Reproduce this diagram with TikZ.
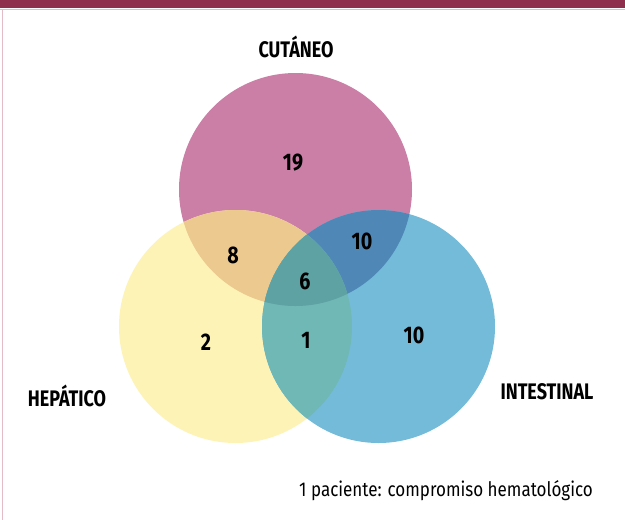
\documentclass[tikz,border=0pt]{standalone}
\usepackage{fontspec}
\setmainfont{Fira Sans}
\newfontfamily\condbold[FakeStretch=0.80]{Fira Sans Bold}
\newfontfamily\condnum[FakeStretch=0.82]{Fira Sans Bold}
\newfontfamily\condreg[FakeStretch=0.85]{Fira Sans}
\definecolor{bar}{HTML}{8E2F4E}
\definecolor{frame}{HTML}{E2BCC7}
\definecolor{cpink}{HTML}{CB7FA7}
\definecolor{cyellow}{HTML}{FEF3B6}
\definecolor{cblue}{HTML}{74BBDA}
\definecolor{cpy}{HTML}{ECC98E}
\definecolor{cpb}{HTML}{4F88B7}
\definecolor{cyb}{HTML}{6FB8B5}
\definecolor{cpyb}{HTML}{5FA2A4}
\tikzset{
  setlabel/.style={font=\condbold\fontsize{22.5}{22.5}\selectfont, text=black, inner sep=0pt},
  numlabel/.style={font=\condnum\fontsize{24}{24}\selectfont, text=black, inner sep=0pt},
  notelabel/.style={font=\condreg\fontsize{20}{20}\selectfont, text=black, inner sep=0pt}
}
\begin{document}
\begin{tikzpicture}[x=1pt,y=1pt]
\useasboundingbox (0,0) rectangle (625,-520);
\fill[white] (0,0) rectangle (625,-520);
% frame
\fill[bar] (0,0) rectangle (625,-8);
\draw[frame, line width=1.2pt] (0,-9.2) -- (625,-9.2);
\draw[frame, line width=1.2pt] (2.5,-9) -- (2.5,-520);
% circles
\def\PC{(295.5,-189.5) circle (116.5pt)}
\def\YC{(235.5,-326.5) circle (116.5pt)}
\def\BC{(378.5,-326.5) circle (116.5pt)}
\fill[cpink] \PC;
\fill[cyellow] \YC;
\fill[cblue] \BC;
\begin{scope}
  \clip \PC;
  \fill[cpy] \YC;
  \fill[cpb] \BC;
\end{scope}
\begin{scope}
  \clip \YC;
  \fill[cyb] \BC;
  \clip \BC;
  \fill[cpyb] \PC;
\end{scope}
% set labels
\node[setlabel] (lc) at (296,-47) {CUTÁNEO};
\node[setlabel] (lh) at (67,-396) {HEPÁTICO};
\node[setlabel] (li) at (547,-392) {INTESTINAL};
% numbers
\node[numlabel] (n19) at (293,-163) {19};
\node[numlabel] (n8) at (233,-255) {8};
\node[numlabel] (n10a) at (362,-241) {10};
\node[numlabel] (n6) at (305,-281) {6};
\node[numlabel] (n2) at (206,-342) {2};
\node[numlabel] (n1) at (306,-340) {1};
\node[numlabel] (n10b) at (414,-335) {10};
% note
\node[notelabel] (note) at (446,-491) {1 paciente: compromiso hematológico};
\end{tikzpicture}
\end{document}
